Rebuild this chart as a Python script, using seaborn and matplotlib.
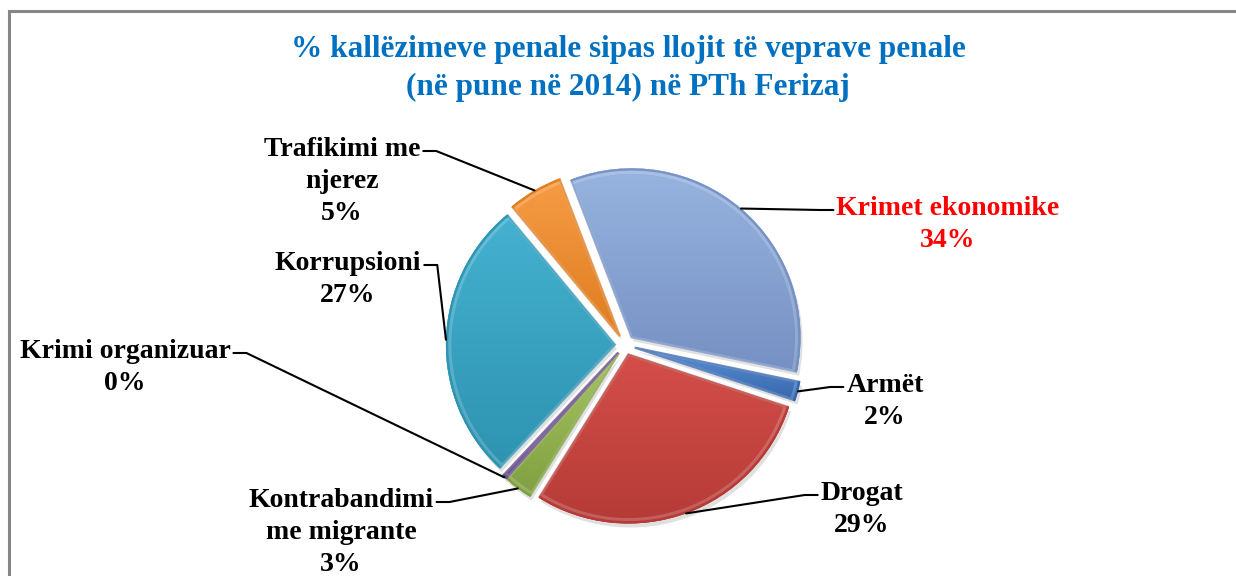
import numpy as np
import matplotlib
matplotlib.use("Agg")
import matplotlib.pyplot as plt
from matplotlib.colors import LinearSegmentedColormap
from matplotlib.lines import Line2D
from matplotlib.patches import Wedge
import seaborn as sns

# ---- data -------------------------------------------------------------
categories = ["Krimet ekonomike", "Armët", "Drogat", "Kontrabandimi\nme migrante",
              "Krimi organizuar", "Korrupsioni", "Trafikimi me\nnjerez"]
shares = [34.1, 1.8, 28.8, 2.7, 0.4, 27.0, 5.2]
title_lines = ["% kallëzimeve penale sipas llojit të veprave penale",
               "(në pune në 2014) në PTh Ferizaj"]

# ---- style ------------------------------------------------------------
top_colors = ["#97B4E0", "#5A90D6", "#D44E49", "#A5C462", "#8C6BB4", "#45B1D0", "#F79C45"]
bottom_colors = ["#7590C2", "#3766AC", "#B53B37", "#809F40", "#5F4585", "#2D93B1", "#DE7C20"]
label_colors = ["#FF0000", "black", "black", "black", "black", "black", "black"]
# label anchor: (center x, first-line baseline y, side of the pie) in pixels
label_pos = [(948, 215, "right"), (885, 392, "right"), (862, 500, "right"),
             (341, 507, "left"), (125, 358, "left"), (348, 270, "left"),
             (342, 156, "left")]
LINE_STEP = 32  # pixels between label baselines

sns.set_theme(style="white")
plt.rcParams["font.family"] = ["Liberation Serif", "DejaVu Serif"]

W, H = 1236, 576
fig = plt.figure(figsize=(W / 100, H / 100), dpi=100)
ax = fig.add_axes([0, 0, 1, 1])


def fy(y):
    return H - y


cx, cy, R = 625, fy(345), 169
gap = 0.06 * R

wedges, _ = ax.pie(shares, startangle=111, counterclock=False,
                   center=(cx, cy), radius=R, explode=[gap] * len(shares),
                   colors=sns.color_palette(top_colors),
                   wedgeprops=dict(linewidth=0))
ax.set_xlim(0, W)
ax.set_ylim(0, H)
ax.set_aspect("equal")
ax.axis("off")

# soft shadow, vertical gradient fill and bevel edge for each slice
grad = np.linspace(0, 1, 256).reshape(-1, 1)
for w, c0, c1 in zip(wedges, top_colors, bottom_colors):
    w.set_zorder(2)
    ax.add_patch(Wedge((w.center[0] + 2, w.center[1] - 4), w.r, w.theta1, w.theta2,
                       color="#000000", alpha=0.12, zorder=1, linewidth=0))
    ext = w.get_path().get_extents()
    cmap = LinearSegmentedColormap.from_list("g", [c0, c1])
    im = ax.imshow(grad, cmap=cmap, aspect="auto", origin="upper",
                   extent=(ext.x0, ext.x1, ext.y0, ext.y1), zorder=3,
                   interpolation="bilinear")
    im.set_clip_path(w)
    ax.add_patch(Wedge(w.center, w.r - 1.2, w.theta1, w.theta2,
                       facecolor="none", edgecolor=c1,
                       linewidth=1.6, alpha=0.9, zorder=4))
    ax.add_patch(Wedge(w.center, w.r - 4, w.theta1, w.theta2,
                       facecolor="none", edgecolor="white",
                       linewidth=2.2, alpha=0.18, zorder=4))
ax.set_xlim(0, W)
ax.set_ylim(0, H)

# labels with leader lines
fig.canvas.draw()
renderer = fig.canvas.get_renderer()
for w, cat, val, col, (tx, tyb, side) in zip(wedges, categories, shares,
                                             label_colors, label_pos):
    lines = [*cat.split("\n"), f"{val:.0f}%"]
    widths = []
    for i, s in enumerate(lines):
        t = ax.text(tx, fy(tyb + LINE_STEP * i), s, ha="center", va="baseline",
                    fontsize=20, fontweight="bold", color=col, zorder=6)
        widths.append(t.get_window_extent(renderer)
                      .transformed(ax.transData.inverted()))
    bb = widths[0]
    mid = np.deg2rad(0.5 * (w.theta1 + w.theta2))
    ax_pt = (w.center[0] + w.r * np.cos(mid), w.center[1] + w.r * np.sin(mid))
    ly = fy(tyb - 5)
    if side == "left":
        x_txt = bb.x1 + 3
        x_elb = x_txt + 13
    else:
        x_txt = bb.x0 - 3
        x_elb = x_txt - 13
    ax.add_line(Line2D([x_txt, x_elb, ax_pt[0]], [ly, ly, ax_pt[1]],
                       color="black", linewidth=1.5, zorder=5))

# title
for i, line in enumerate(title_lines):
    ax.text(628, fy(57 + 38 * i), line, ha="center", va="baseline",
            fontsize=22.5, fontweight="bold", color="#0070C0")

# chart area frame (top and left edges)
ax.add_line(Line2D([9, 9, W], [0, fy(10.5), fy(10.5)], color="#878787",
                   linewidth=2.2, zorder=7, solid_joinstyle="miter"))

fig.savefig("out.png", dpi=100)
